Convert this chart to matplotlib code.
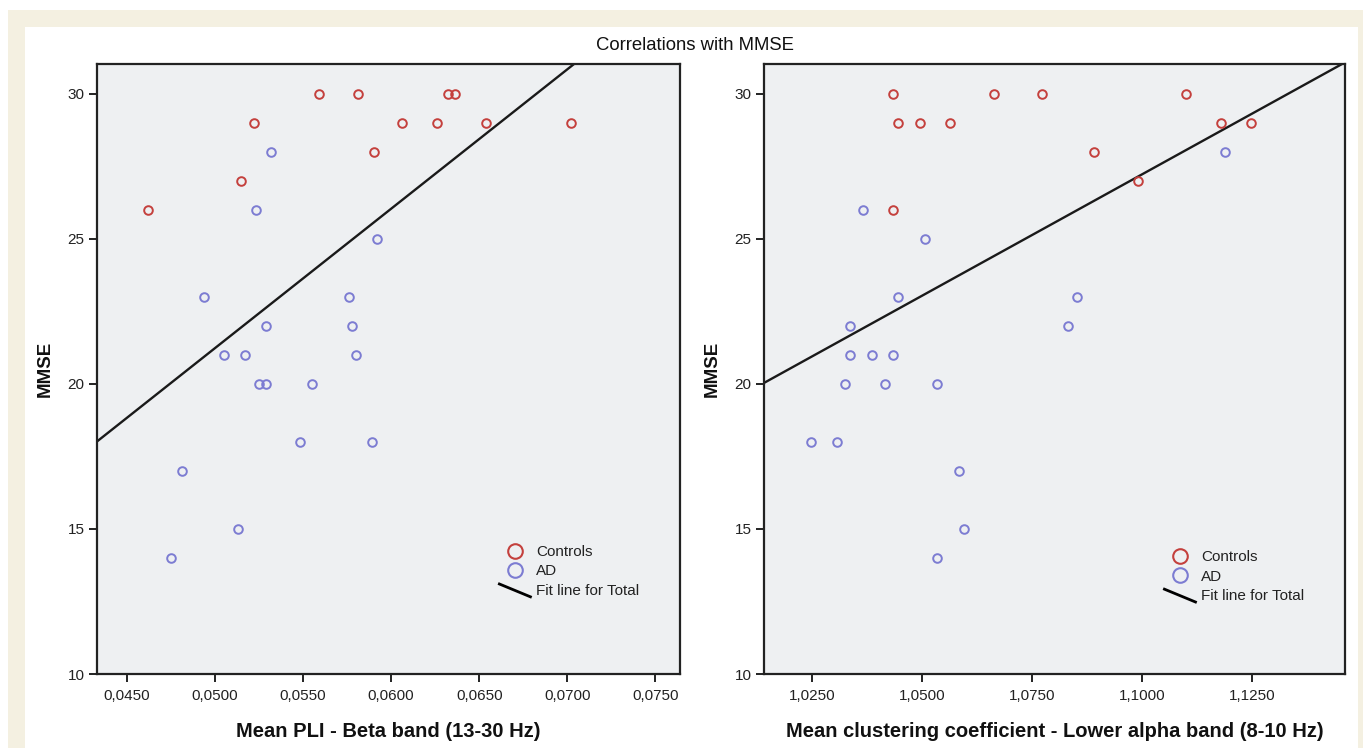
import numpy as np
import matplotlib
matplotlib.use("Agg")
import matplotlib.pyplot as plt
from matplotlib.lines import Line2D
from matplotlib.patches import Rectangle
from matplotlib.legend_handler import HandlerBase
from matplotlib.ticker import FuncFormatter, FixedLocator

plt.rcParams['font.family'] = ['Liberation Sans', 'DejaVu Sans']

# ---------------- data ----------------
# Left panel: Mean PLI - Beta band
pli_controls_x = [0.0462, 0.0515, 0.0522, 0.0559, 0.0581, 0.0590, 0.0606,
                  0.0626, 0.0632, 0.0636, 0.0654, 0.0702]
pli_controls_y = [26, 27, 29, 30, 30, 28, 29, 29, 30, 30, 29, 29]
pli_ad_x = [0.0532, 0.0523, 0.0592, 0.0494, 0.0576, 0.0529, 0.0578, 0.0505,
            0.0517, 0.0580, 0.0525, 0.0529, 0.0555, 0.0548, 0.0589, 0.0481,
            0.0513, 0.0475]
pli_ad_y = [28, 26, 25, 23, 23, 22, 22, 21, 21, 21, 20, 20, 20, 18, 18, 17,
            15, 14]

# Right panel: Mean clustering coefficient - Lower alpha band
cc_controls_x = [1.0434, 1.0663, 1.0773, 1.1100, 1.0445, 1.0495, 1.0565,
                 1.1180, 1.1249, 1.0892, 1.0991, 1.0434]
cc_controls_y = [30, 30, 30, 30, 29, 29, 29, 29, 29, 28, 27, 26]
cc_ad_x = [1.1190, 1.0366, 1.0506, 1.0445, 1.0852, 1.0336, 1.0832, 1.0336,
           1.0386, 1.0434, 1.0326, 1.0415, 1.0535, 1.0247, 1.0307, 1.0585,
           1.0595, 1.0535]
cc_ad_y = [28, 26, 25, 23, 23, 22, 22, 21, 21, 21, 20, 20, 20, 18, 18, 17,
           15, 14]

pli_ticks = [0.0450, 0.0500, 0.0550, 0.0600, 0.0650, 0.0700, 0.0750]
cc_ticks = [1.0250, 1.0500, 1.0750, 1.1000, 1.1250]
y_ticks = [10, 15, 20, 25, 30]

title = "Correlations with MMSE"
ylabel = "MMSE"
xlabel_left = "Mean PLI - Beta band (13-30 Hz)"
xlabel_right = "Mean clustering coefficient - Lower alpha band (8-10 Hz)"
legend_labels = ["Controls", "AD", "Fit line for Total"]

# ---------------- style ----------------
W, H = 1363, 748
RED = '#c4403d'
BLUE = '#7c7cd2'
AX_BG = '#eef0f2'
BEIGE = '#f4f0e1'

fig = plt.figure(figsize=(W / 100, H / 100), dpi=100)
fig.patch.set_facecolor('white')
# beige frame band + white inner panel
fig.patches.append(Rectangle((8 / W, -0.1), 1.2, 1 - 10 / H + 0.1,
                             transform=fig.transFigure, facecolor=BEIGE,
                             edgecolor='none', zorder=-10))
fig.patches.append(Rectangle((25 / W, -0.1), (1358 - 25) / W, 1 - 27 / H + 0.1,
                             transform=fig.transFigure, facecolor='white',
                             edgecolor='none', zorder=-9))


class HandlerDiag(HandlerBase):
    def create_artists(self, legend, orig_handle, xdescent, ydescent,
                       width, height, fontsize, trans):
        ln = Line2D([-xdescent, -xdescent + width],
                    [-ydescent + height * 1.05, -ydescent - height * 0.25],
                    color='black', lw=2.0, solid_capstyle='butt')
        ln.set_transform(trans)
        return [ln]


def make_panel(rect, cx, cy, ax_x, ay_y, xticks, xlim, xlabel, leg_anchor):
    ax = fig.add_axes(rect)
    ax.set_facecolor(AX_BG)
    ax.plot(cx, cy, linestyle='none', marker='o', ms=6.2, mfc='none',
            mec=RED, mew=1.4, zorder=3)
    ax.plot(ax_x, ay_y, linestyle='none', marker='o', ms=6.2, mfc='none',
            mec=BLUE, mew=1.4, zorder=3)
    allx = np.array(list(cx) + list(ax_x))
    ally = np.array(list(cy) + list(ay_y))
    slope, icpt = np.polyfit(allx, ally, 1)
    xs = np.array(xlim)
    ax.plot(xs, icpt + slope * xs, color='#1a1a1a', lw=1.7, zorder=2)
    ax.set_xlim(*xlim)
    ax.set_ylim(10, 31.03)
    ax.xaxis.set_major_locator(FixedLocator(xticks))
    ax.yaxis.set_major_locator(FixedLocator(y_ticks))
    ax.xaxis.set_major_formatter(FuncFormatter(lambda v, p: f"{v:.4f}".replace('.', ',')))
    ax.yaxis.set_major_formatter(FuncFormatter(lambda v, p: f"{int(round(v))}"))
    ax.tick_params(direction='out', length=6, width=1.4, labelsize=11,
                   colors='#222222', pad=3)
    ax.tick_params(axis='x', pad=4.5)
    for s in ax.spines.values():
        s.set_linewidth(1.6)
        s.set_color('#222222')
    ax.set_xlabel(xlabel, fontsize=14.5, fontweight='bold', color='#111111')
    ax.xaxis.label.set_va('center')
    ax.xaxis.set_label_coords(0.5, -0.095)
    ax.set_ylabel(ylabel, fontsize=13.5, fontweight='bold', color='#111111')
    ax.yaxis.label.set_va('center')
    ax.yaxis.set_label_coords(-0.089, 0.5)

    handles = [
        Line2D([], [], linestyle='none', marker='o', ms=10.5, mfc='none',
               mec=RED, mew=1.5),
        Line2D([], [], linestyle='none', marker='o', ms=10.5, mfc='none',
               mec=BLUE, mew=1.5),
        Line2D([], [], color='black'),
    ]
    leg = ax.legend(handles, legend_labels, loc='upper left',
                    bbox_to_anchor=leg_anchor, frameon=False, fontsize=11,
                    handlelength=2.2, handletextpad=0.3, labelspacing=0.35,
                    borderpad=0, borderaxespad=0,
                    handler_map={handles[2]: HandlerDiag()})
    for t in leg.get_texts():
        t.set_color('#222222')
    return ax


make_panel([97 / W, 1 - 674 / H, 583 / W, 610 / H],
           pli_controls_x, pli_controls_y, pli_ad_x, pli_ad_y,
           pli_ticks, (0.0433, 0.0764), xlabel_left, (0.688, 0.2115))
make_panel([764 / W, 1 - 674 / H, 581 / W, 610 / H],
           cc_controls_x, cc_controls_y, cc_ad_x, cc_ad_y,
           cc_ticks, (1.0141, 1.1462), xlabel_right, (0.687, 0.203))

fig.text(695 / W, 1 - 45 / H, title, ha='center', va='center', fontsize=13.3,
         color='#111111')

fig.savefig('out.png', dpi=100, facecolor='white')
